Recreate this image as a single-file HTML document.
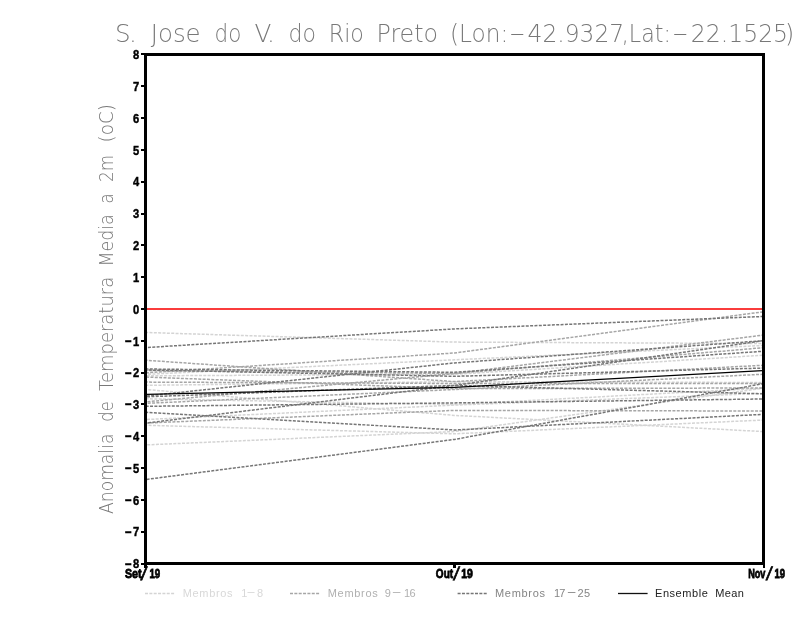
<!DOCTYPE html>
<html lang="pt">
<head>
<meta charset="utf-8">
<title>S. Jose do V. do Rio Preto</title>
<style>
html,body{margin:0;padding:0;background:#fff;}
body{width:800px;height:618px;overflow:hidden;}
svg{display:block;}
.thin{font-family:"DejaVu Sans Light","DejaVu Sans","Liberation Sans",sans-serif;font-weight:200;}
.bold{font-family:"Liberation Sans","DejaVu Sans",sans-serif;font-weight:700;fill:#000;stroke:#000;stroke-width:0.45px;}
.xl{stroke-width:0.8px;}
.slash{font-family:"Liberation Sans","DejaVu Sans",sans-serif;font-weight:400;fill:#000;stroke:#000;stroke-width:0.7px;}
.leg{font-family:"Liberation Sans","DejaVu Sans",sans-serif;font-weight:400;}
.mem polyline{fill:none;stroke-width:1.5;stroke-dasharray:3 1.35;}
</style>
</head>
<body>
<svg width="800" height="618" viewBox="0 0 800 618">
<rect x="0" y="0" width="800" height="618" fill="#fff"/>

<text class="thin" font-size="24.7" fill="#787878"><tspan x="115.1" y="42" textLength="21.7" lengthAdjust="spacing">S.</tspan> <tspan x="150.74" y="42" textLength="49.92" lengthAdjust="spacingAndGlyphs">Jose</tspan> <tspan x="214.62" y="42" textLength="26.76" lengthAdjust="spacingAndGlyphs">do</tspan> <tspan x="254.46" y="42" textLength="20.34" lengthAdjust="spacing">V.</tspan> <tspan x="288.45" y="42" textLength="27.44" lengthAdjust="spacingAndGlyphs">do</tspan> <tspan x="328.82" y="42" textLength="35.12" lengthAdjust="spacingAndGlyphs">Rio</tspan> <tspan x="376.5" y="42" textLength="61.55" lengthAdjust="spacingAndGlyphs">Preto</tspan> <tspan x="450.02" y="42" textLength="58.28" lengthAdjust="spacingAndGlyphs">(Lon:</tspan><tspan x="509.06" y="40.9" textLength="16.5" lengthAdjust="spacingAndGlyphs">-</tspan><tspan x="527.54" y="42" textLength="96.56" lengthAdjust="spacingAndGlyphs">42.9327</tspan><tspan x="621.82" y="42" textLength="49.13" lengthAdjust="spacingAndGlyphs">,Lat:</tspan><tspan x="672.06" y="40.9" textLength="16.5" lengthAdjust="spacingAndGlyphs">-</tspan><tspan x="690.76" y="42" textLength="97.34" lengthAdjust="spacingAndGlyphs">22.1525</tspan><tspan x="785.05" y="42" textLength="9.2" lengthAdjust="spacingAndGlyphs">)</tspan></text>
<text class="thin" transform="translate(113,0) rotate(-90)" font-size="19.8" fill="#787878"><tspan x="-513.98" y="0" textLength="80.38" lengthAdjust="spacingAndGlyphs">Anomalia</tspan> <tspan x="-421.7" y="0" textLength="20.4" lengthAdjust="spacingAndGlyphs">de</tspan> <tspan x="-391.0" y="0" textLength="114.21" lengthAdjust="spacingAndGlyphs">Temperatura</tspan> <tspan x="-266.58" y="0" textLength="52.24" lengthAdjust="spacingAndGlyphs">Media</tspan> <tspan x="-203.7" y="0" textLength="10.59" lengthAdjust="spacingAndGlyphs">a</tspan> <tspan x="-181.92" y="0" textLength="27.1" lengthAdjust="spacingAndGlyphs">2m</tspan> <tspan x="-142.4" y="0" textLength="38.3" lengthAdjust="spacingAndGlyphs">(oC)</tspan></text>
<g class="mem">
<polyline points="146.5,332.5 454.5,342.1 762.5,343.5" stroke="#d4d4d4" stroke-dashoffset="1.37"/>
<polyline points="146.5,374.3 454.5,359.8 762.5,345.5" stroke="#d4d4d4" stroke-dashoffset="2.74"/>
<polyline points="146.5,375.8 454.5,374.3 762.5,355.3" stroke="#d4d4d4" stroke-dashoffset="4.11"/>
<polyline points="146.5,385.3 454.5,381.7 762.5,382.5" stroke="#d4d4d4" stroke-dashoffset="1.13"/>
<polyline points="146.5,389.6 454.5,415.4 762.5,431.5" stroke="#d4d4d4" stroke-dashoffset="2.5"/>
<polyline points="146.5,419.5 454.5,405.1 762.5,393.4" stroke="#d4d4d4" stroke-dashoffset="3.87"/>
<polyline points="146.5,398.8 454.5,404.5 762.5,388.2" stroke="#d4d4d4" stroke-dashoffset="0.89"/>
<polyline points="146.5,425.3 454.5,433.8 762.5,420.1" stroke="#d4d4d4" stroke-dashoffset="2.26"/>
<polyline points="146.5,444.9 454.5,431.5 762.5,388.3" stroke="#d4d4d4" stroke-dashoffset="3.63"/>
<polyline points="146.5,372.8 454.5,353.0 762.5,311.9" stroke="#a6a6a6" stroke-dashoffset="0.65"/>
<polyline points="146.5,360.3 454.5,381.6 762.5,365.3" stroke="#a6a6a6" stroke-dashoffset="2.02"/>
<polyline points="146.5,401.8 454.5,373.5 762.5,335.2" stroke="#a6a6a6" stroke-dashoffset="3.39"/>
<polyline points="146.5,377.1 454.5,388.6 762.5,388.0" stroke="#a6a6a6" stroke-dashoffset="0.41"/>
<polyline points="146.5,382.1 454.5,383.5 762.5,383.5" stroke="#a6a6a6" stroke-dashoffset="1.78"/>
<polyline points="146.5,403.3 454.5,389.5 762.5,374.3" stroke="#a6a6a6" stroke-dashoffset="3.15"/>
<polyline points="146.5,423.0 454.5,410.4 762.5,411.0" stroke="#a6a6a6" stroke-dashoffset="0.17"/>
<polyline points="146.5,370.5 454.5,373.5 762.5,347.8" stroke="#a6a6a6" stroke-dashoffset="1.54"/>
<polyline points="146.5,347.5 454.5,328.9 762.5,316.5" stroke="#767676" stroke-dashoffset="2.91"/>
<polyline points="146.5,479.4 454.5,439.4 762.5,383.8" stroke="#767676" stroke-dashoffset="4.28"/>
<polyline points="146.5,412.3 454.5,430.0 762.5,414.4" stroke="#767676" stroke-dashoffset="1.3"/>
<polyline points="146.5,423.0 454.5,385.5 762.5,340.8" stroke="#767676" stroke-dashoffset="2.67"/>
<polyline points="146.5,396.0 454.5,362.9 762.5,340.8" stroke="#767676" stroke-dashoffset="4.04"/>
<polyline points="146.5,369.0 454.5,372.3 762.5,351.3" stroke="#767676" stroke-dashoffset="1.06"/>
<polyline points="146.5,370.0 454.5,376.3 762.5,368.1" stroke="#767676" stroke-dashoffset="2.43"/>
<polyline points="146.5,396.8 454.5,385.4 762.5,393.8" stroke="#767676" stroke-dashoffset="3.8"/>
<polyline points="146.5,406.3 454.5,402.9 762.5,399.0" stroke="#767676" stroke-dashoffset="0.82"/>
</g>
<polyline points="146.5,394.3 454.5,387.3 762.5,370.7" stroke="#000" fill="none" stroke-width="1.25"/>
<rect x="146" y="308" width="616" height="2" fill="#fa3c3c"/>
<g shape-rendering="crispEdges">
<rect x="145.5" y="54.5" width="618.0" height="509.0" fill="none" stroke="#000" stroke-width="3"/>
<rect x="141" y="563" width="4" height="2" fill="#000"/>
<rect x="141" y="531" width="4" height="2" fill="#000"/>
<rect x="141" y="499" width="4" height="2" fill="#000"/>
<rect x="141" y="467" width="4" height="2" fill="#000"/>
<rect x="141" y="435" width="4" height="2" fill="#000"/>
<rect x="141" y="403" width="4" height="2" fill="#000"/>
<rect x="141" y="372" width="4" height="2" fill="#000"/>
<rect x="141" y="340" width="4" height="2" fill="#000"/>
<rect x="141" y="308" width="4" height="2" fill="#000"/>
<rect x="141" y="276" width="4" height="2" fill="#000"/>
<rect x="141" y="244" width="4" height="2" fill="#000"/>
<rect x="141" y="213" width="4" height="2" fill="#000"/>
<rect x="141" y="181" width="4" height="2" fill="#000"/>
<rect x="141" y="149" width="4" height="2" fill="#000"/>
<rect x="141" y="117" width="4" height="2" fill="#000"/>
<rect x="141" y="85" width="4" height="2" fill="#000"/>
<rect x="141" y="53" width="4" height="2" fill="#000"/>
<rect x="144" y="564" width="3" height="3.5" fill="#000"/>
<rect x="453" y="564" width="3" height="3.5" fill="#000"/>
<rect x="763" y="564" width="2" height="3.5" fill="#000"/>
</g>
<text class="bold" font-size="13"><tspan x="132.9" y="59.1" textLength="6.2" lengthAdjust="spacingAndGlyphs">8</tspan></text>
<text class="bold" font-size="13"><tspan x="132.9" y="91.0" textLength="6.2" lengthAdjust="spacingAndGlyphs">7</tspan></text>
<text class="bold" font-size="13"><tspan x="132.9" y="122.8" textLength="6.2" lengthAdjust="spacingAndGlyphs">6</tspan></text>
<text class="bold" font-size="13"><tspan x="132.9" y="154.6" textLength="6.2" lengthAdjust="spacingAndGlyphs">5</tspan></text>
<text class="bold" font-size="13"><tspan x="132.9" y="186.4" textLength="6.2" lengthAdjust="spacingAndGlyphs">4</tspan></text>
<text class="bold" font-size="13"><tspan x="132.9" y="218.2" textLength="6.2" lengthAdjust="spacingAndGlyphs">3</tspan></text>
<text class="bold" font-size="13"><tspan x="132.9" y="250.0" textLength="6.2" lengthAdjust="spacingAndGlyphs">2</tspan></text>
<text class="bold" font-size="13"><tspan x="132.9" y="281.8" textLength="6.2" lengthAdjust="spacingAndGlyphs">1</tspan></text>
<text class="bold" font-size="13"><tspan x="132.9" y="313.6" textLength="6.2" lengthAdjust="spacingAndGlyphs">0</tspan></text>
<text class="bold" font-size="13"><tspan x="124.85" y="344.8" textLength="7.15" lengthAdjust="spacingAndGlyphs">-</tspan><tspan x="132.9" y="345.5" textLength="6.2" lengthAdjust="spacingAndGlyphs">1</tspan></text>
<text class="bold" font-size="13"><tspan x="124.85" y="376.6" textLength="7.15" lengthAdjust="spacingAndGlyphs">-</tspan><tspan x="132.9" y="377.3" textLength="6.2" lengthAdjust="spacingAndGlyphs">2</tspan></text>
<text class="bold" font-size="13"><tspan x="124.85" y="408.4" textLength="7.15" lengthAdjust="spacingAndGlyphs">-</tspan><tspan x="132.9" y="409.1" textLength="6.2" lengthAdjust="spacingAndGlyphs">3</tspan></text>
<text class="bold" font-size="13"><tspan x="124.85" y="440.2" textLength="7.15" lengthAdjust="spacingAndGlyphs">-</tspan><tspan x="132.9" y="440.9" textLength="6.2" lengthAdjust="spacingAndGlyphs">4</tspan></text>
<text class="bold" font-size="13"><tspan x="124.85" y="472.1" textLength="7.15" lengthAdjust="spacingAndGlyphs">-</tspan><tspan x="132.9" y="472.7" textLength="6.2" lengthAdjust="spacingAndGlyphs">5</tspan></text>
<text class="bold" font-size="13"><tspan x="124.85" y="503.9" textLength="7.15" lengthAdjust="spacingAndGlyphs">-</tspan><tspan x="132.9" y="504.5" textLength="6.2" lengthAdjust="spacingAndGlyphs">6</tspan></text>
<text class="bold" font-size="13"><tspan x="124.85" y="535.7" textLength="7.15" lengthAdjust="spacingAndGlyphs">-</tspan><tspan x="132.9" y="536.3" textLength="6.2" lengthAdjust="spacingAndGlyphs">7</tspan></text>
<text class="bold" font-size="13"><tspan x="124.85" y="567.5" textLength="7.15" lengthAdjust="spacingAndGlyphs">-</tspan><tspan x="132.9" y="568.1" textLength="6.2" lengthAdjust="spacingAndGlyphs">8</tspan></text>
<text class="bold xl" x="124.9" y="577.5" font-size="13" textLength="16.7" lengthAdjust="spacingAndGlyphs">Set</text>
<text class="bold xl" x="149.4" y="577.5" font-size="13" textLength="10.8" lengthAdjust="spacingAndGlyphs">19</text>
<text class="bold xl" x="435.83" y="577.5" font-size="13" textLength="17.3" lengthAdjust="spacingAndGlyphs">Out</text>
<text class="bold xl" x="461.2" y="577.5" font-size="13" textLength="11.6" lengthAdjust="spacingAndGlyphs">19</text>
<text class="bold xl" x="748.17" y="577.5" font-size="13" textLength="17.3" lengthAdjust="spacingAndGlyphs">Nov</text>
<text class="bold xl" x="774.5" y="577.5" font-size="13" textLength="10.5" lengthAdjust="spacingAndGlyphs">19</text>
<text class="slash" transform="translate(140.6,580.4) skewX(-8)" font-size="18.6">/</text>
<text class="slash" transform="translate(453.0,580.4) skewX(-8)" font-size="18.6">/</text>
<text class="slash" transform="translate(765.7,580.4) skewX(-8)" font-size="18.6">/</text>
<line x1="145" y1="593.5" x2="174.5" y2="593.5" stroke="#d4d4d4" stroke-width="1.3" stroke-dasharray="3 1.35"/>
<line x1="290" y1="593.5" x2="320" y2="593.5" stroke="#a6a6a6" stroke-width="1.3" stroke-dasharray="3 1.35"/>
<line x1="457.6" y1="593.5" x2="487" y2="593.5" stroke="#767676" stroke-width="1.3" stroke-dasharray="3 1.35"/>
<line x1="618" y1="593.5" x2="647.6" y2="593.5" stroke="#111" stroke-width="1.3"/>
<text class="leg" font-size="11" fill="#d8d8d8"><tspan x="182.75" y="596.6" textLength="49.75" lengthAdjust="spacing">Membros</tspan> <tspan x="241.25" y="596.6">1</tspan><tspan x="246.15" y="595.0" textLength="9.55" lengthAdjust="spacingAndGlyphs">-</tspan><tspan x="256.9" y="596.6">8</tspan></text>
<text class="leg" font-size="11" fill="#b0b0b0"><tspan x="327.75" y="596.6" textLength="50.0" lengthAdjust="spacing">Membros</tspan> <tspan x="384.75" y="596.6">9</tspan><tspan x="391.45" y="595.0" textLength="10.32" lengthAdjust="spacingAndGlyphs">-</tspan><tspan x="404" y="596.6" textLength="11.6" lengthAdjust="spacing">16</tspan></text>
<text class="leg" font-size="11" fill="#858585"><tspan x="495" y="596.6" textLength="50" lengthAdjust="spacing">Membros</tspan> <tspan x="553.98" y="596.6" textLength="11.34" lengthAdjust="spacing">17</tspan><tspan x="566.45" y="595.0" textLength="10.32" lengthAdjust="spacingAndGlyphs">-</tspan><tspan x="577.5" y="596.6" textLength="12.5" lengthAdjust="spacing">25</tspan></text>
<text class="leg" font-size="11" fill="#222"><tspan x="655" y="596.6" textLength="52.75" lengthAdjust="spacing">Ensemble</tspan> <tspan x="715.32" y="596.6" textLength="28.53" lengthAdjust="spacing">Mean</tspan></text>
</svg>
</body>
</html>
